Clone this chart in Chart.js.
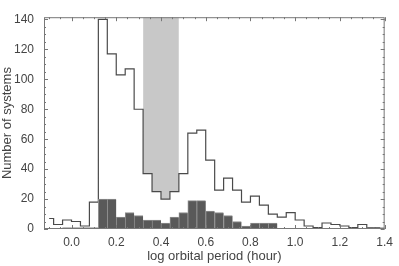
<!DOCTYPE html>
<html>
<head>
<meta charset="utf-8">
<script src="https://cdn.jsdelivr.net/npm/chart.js@4/dist/chart.umd.min.js"></script>
<style>
  body { margin: 0; background: #fff; }
  #chart { display: block; }
</style>
</head>
<body>
<canvas id="chart" width="399" height="266"></canvas>
<script>
// bin centres (log P, width 0.04)
const binCenters = [
  -0.10, -0.06, -0.02, 0.02, 0.06, 0.10, 0.14, 0.18, 0.22, 0.26,
  0.30, 0.34, 0.38, 0.42, 0.46, 0.50, 0.54, 0.58, 0.62, 0.66,
  0.70, 0.74, 0.78, 0.82, 0.86, 0.90, 0.94, 0.98, 1.02, 1.06,
  1.10, 1.14, 1.18, 1.22, 1.26, 1.30, 1.34, 1.38
];
// all systems (open histogram)
const allCounts = [
  7, 3, 6, 5, 2, 18, 140, 117, 103, 107,
  80, 37, 25, 20, 25, 37, 64, 66, 46, 26,
  34, 26, 18, 22, 16, 10, 8, 11, 6, 2,
  1, 4, 3, 2, 1, 3, 1, 1
];
// sub-sample (filled histogram)
const subCounts = [
  0, 0, 1, 1, 1, 1, 20, 20, 8, 11,
  9, 6, 6, 4, 8, 11, 19, 19, 12, 11,
  9, 5, 2, 4, 4, 4, 0, 0, 0, 0,
  0, 0, 0, 0, 0, 0, 1, 1
];
const binWidth = 0.04;
const gapStart = 0.32;
const gapEnd = 0.48;
const xTicks = [0.0, 0.2, 0.4, 0.6, 0.8, 1.0, 1.2, 1.4];
const yTicks = [0, 20, 40, 60, 80, 100, 120, 140];
const xMinorStep = 0.05;
const yMinorStep = 5;

const textColor = "#444";

const outlineData = binCenters.map((c, i) => ({ x: c, y: allCounts[i] }));
const subData = binCenters
  .map((c, i) => ({ x: c, y: subCounts[i] }))
  .filter((p) => p.y > 0);

// period gap band: fill from histogram up to the top
const bandData = [];
binCenters.forEach((c, i) => {
  const left = c - binWidth / 2;
  if (left > gapStart - 0.001 && left < gapEnd - 0.001) {
    bandData.push({ x: left, y: allCounts[i] });
  }
});
bandData.push({ x: gapEnd, y: bandData[bandData.length - 1].y });

// IDL style frame with inward ticks
const frameTicks = {
  id: "frameTicks",
  afterDatasetsDraw(chart) {
    const { ctx, chartArea: a, scales } = chart;
    const xs = scales.x;
    const ys = scales.y;
    ctx.save();
    ctx.strokeStyle = "#777";
    ctx.lineWidth = 1;
    ctx.strokeRect(a.left + 0.5, a.top + 0.5, a.right - a.left - 1, a.bottom - a.top - 1);
    ctx.beginPath();
    for (let v = -0.10; v <= xs.max + 1e-6; v += xMinorStep) {
      const major = xTicks.some((t) => Math.abs(t - v) < 1e-6);
      const len = major ? 4 : 2;
      const px = Math.round(xs.getPixelForValue(v)) + 0.5;
      ctx.moveTo(px, a.bottom);
      ctx.lineTo(px, a.bottom - len);
      ctx.moveTo(px, a.top);
      ctx.lineTo(px, a.top + len);
    }
    for (let v = 0; v <= ys.max; v += yMinorStep) {
      const major = yTicks.includes(v);
      const len = major ? 4 : 2;
      const py = Math.round(ys.getPixelForValue(v)) + 0.5;
      ctx.moveTo(a.left, py);
      ctx.lineTo(a.left + len, py);
      ctx.moveTo(a.right, py);
      ctx.lineTo(a.right - len, py);
    }
    ctx.stroke();
    ctx.restore();
  },
};

const ctx = document.getElementById("chart").getContext("2d");
new Chart(ctx, {
  type: "line",
  data: {
    datasets: [
      {
        type: "bar",
        data: subData,
        backgroundColor: "#595959",
        borderColor: "#8e8e8e",
        borderWidth: { top: 1, left: 1, right: 0, bottom: 0 },
        borderSkipped: false,
        barPercentage: 1,
        categoryPercentage: 1,
        order: 1,
      },
      {
        type: "line",
        data: outlineData,
        stepped: "middle",
        borderColor: "#4a4a4a",
        borderWidth: 1.2,
        pointRadius: 0,
        fill: false,
        order: 2,
      },
      {
        type: "line",
        data: bandData,
        stepped: true,
        borderWidth: 0,
        borderColor: "rgba(0,0,0,0)",
        backgroundColor: "#c8c8c8",
        pointRadius: 0,
        fill: "end",
        order: 3,
      },
    ],
  },
  options: {
    responsive: false,
    animation: false,
    layout: { padding: { top: 5, right: 5, left: 0, bottom: 0 } },
    plugins: {
      legend: { display: false },
      tooltip: { enabled: false },
    },
    scales: {
      x: {
        type: "linear",
        min: -0.123,
        max: 1.4,
        offset: false,
        grid: { display: false, drawTicks: false },
        border: { display: false },
        afterBuildTicks: (s) => {
          s.ticks = xTicks.map((v) => ({ value: v }));
        },
        afterFit: (s) => {
          s.height = 37;
        },
        ticks: {
          padding: 6,
          maxRotation: 0,
          autoSkip: false,
          color: textColor,
          font: { family: "Liberation Sans", size: 12 },
          callback: (v) => Number(v).toFixed(1),
        },
        title: {
          display: true,
          text: "log orbital period (hour)",
          color: textColor,
          font: { family: "Liberation Sans", size: 13 },
          padding: { top: 0, bottom: 2 },
        },
      },
      y: {
        min: 0,
        max: 141.5,
        grid: { display: false, drawTicks: false },
        border: { display: false },
        afterBuildTicks: (s) => {
          s.ticks = yTicks.map((v) => ({ value: v }));
        },
        afterFit: (s) => {
          s.width = 44;
        },
        ticks: {
          padding: 10,
          color: textColor,
          font: { family: "Liberation Sans", size: 12 },
        },
        title: {
          display: true,
          text: "Number of systems",
          color: textColor,
          font: { family: "Liberation Sans", size: 13 },
          padding: { top: 0, bottom: 0 },
        },
      },
    },
  },
  plugins: [frameTicks],
});
</script>
</body>
</html>
